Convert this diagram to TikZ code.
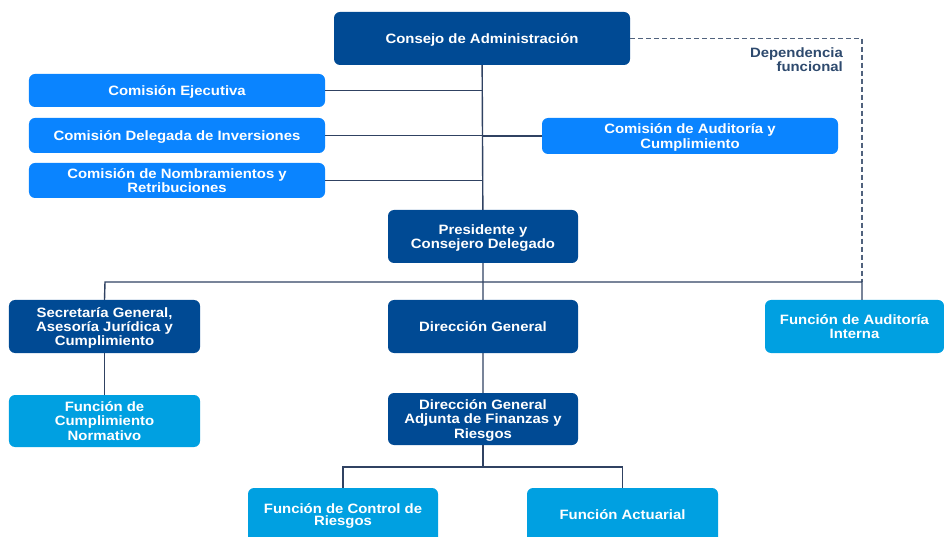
\documentclass[tikz,border=0pt]{standalone}
\usepackage{fontspec}
\setmainfont{Liberation Sans}[FakeStretch=1.1]
\usetikzlibrary{positioning}
\definecolor{navy}{RGB}{0,74,148}
\definecolor{brightblue}{RGB}{10,132,255}
\definecolor{skyblue}{RGB}{0,160,225}
\definecolor{wire}{RGB}{48,66,98}
\definecolor{dashwire}{RGB}{80,98,125}
\definecolor{notecol}{RGB}{46,74,110}
\tikzset{
  box/.style={rounded corners=6bp,inner sep=0pt,align=center,text=white,text depth=0pt,
    font=\fontsize{13.6}{14.5}\selectfont\bfseries},
  boardbox/.style={box,fill=navy},
  comibox/.style={box,fill=brightblue},
  funcbox/.style={box,fill=skyblue},
  wireline/.style={draw=wire,line width=1.4bp},
}
\begin{document}
\begin{tikzpicture}[x=1bp,y=-1bp]
\useasboundingbox (0,0) rectangle (944,537);
\node[boardbox,minimum width=296bp,minimum height=53bp] (consejo) at (482,38.5) {Consejo de Administración};
\node[comibox,minimum width=296bp,minimum height=33bp] (ejecutiva) at (177,90.5) {Comisión Ejecutiva};
\node[comibox,minimum width=296bp,minimum height=35bp] (inversiones) at (177,135.5) {Comisión Delegada de Inversiones};
\node[comibox,minimum width=296bp,minimum height=35bp] (nombram) at (177,180.5) {Comisión de Nombramientos y\\Retribuciones};
\node[comibox,minimum width=296bp,minimum height=36bp] (auditcom) at (690,136) {Comisión de Auditoría y\\Cumplimiento};
\node[boardbox,minimum width=190bp,minimum height=53bp] (presid) at (483,236.5) {Presidente y\\Consejero Delegado};
\node[boardbox,minimum width=191bp,minimum height=53bp] (secret) at (104.5,326.5) {Secretaría General,\\Asesoría Jurídica y\\Cumplimiento};
\node[boardbox,minimum width=190bp,minimum height=53bp] (dirgen) at (483,326.5) {Dirección General};
\node[funcbox,minimum width=179bp,minimum height=53bp] (audint) at (854.5,326.5) {Función de Auditoría\\Interna};
\node[funcbox,minimum width=191bp,minimum height=52bp] (cumplim) at (104.5,421) {Función de\\Cumplimiento\\Normativo};
\node[boardbox,minimum width=190bp,minimum height=52bp] (adjunta) at (483,419) {Dirección General\\Adjunta de Finanzas y\\Riesgos};
\node[funcbox,minimum width=190bp,minimum height=57bp] (riesgos) at (343,516.5) {\raisebox{4bp}{\shortstack{Función de Control de\\Riesgos}}};
\node[funcbox,minimum width=191bp,minimum height=57bp] (actuarial) at (622.5,516.5) {\raisebox{4bp}{Función Actuarial}};
\node[anchor=north east,align=right,inner sep=0pt,text=notecol,
  font=\fontsize{13.6}{14.5}\selectfont\bfseries] (depnote) at (843,47) {Dependencia\\funcional};
\coordinate (busL) at (105,282);
\coordinate (busR) at (862,282);
\coordinate (fork) at (483,467);
\draw[dashwire,line width=1.2bp,dash pattern=on 5bp off 3bp] (consejo.east) -| (busR);
\draw[wireline] (consejo) -- (presid) -- (dirgen) -- (adjunta);
\draw[wireline] (ejecutiva.east) -- (ejecutiva.east -| consejo);
\draw[wireline] (inversiones.east) -- (inversiones.east -| consejo);
\draw[wireline] (nombram.east) -- (nombram.east -| consejo);
\draw[wireline] (auditcom.west) -- (auditcom.west -| consejo);
\draw[wireline] (secret.north) -- (busL) -- (busR) -- (busR |- audint.north);
\draw[wireline] (secret) -- (cumplim);
\draw[wireline] (adjunta.south) -- (fork);
\draw[wireline] (riesgos.north) |- (fork) -| (actuarial.north);
\end{tikzpicture}
\end{document}
